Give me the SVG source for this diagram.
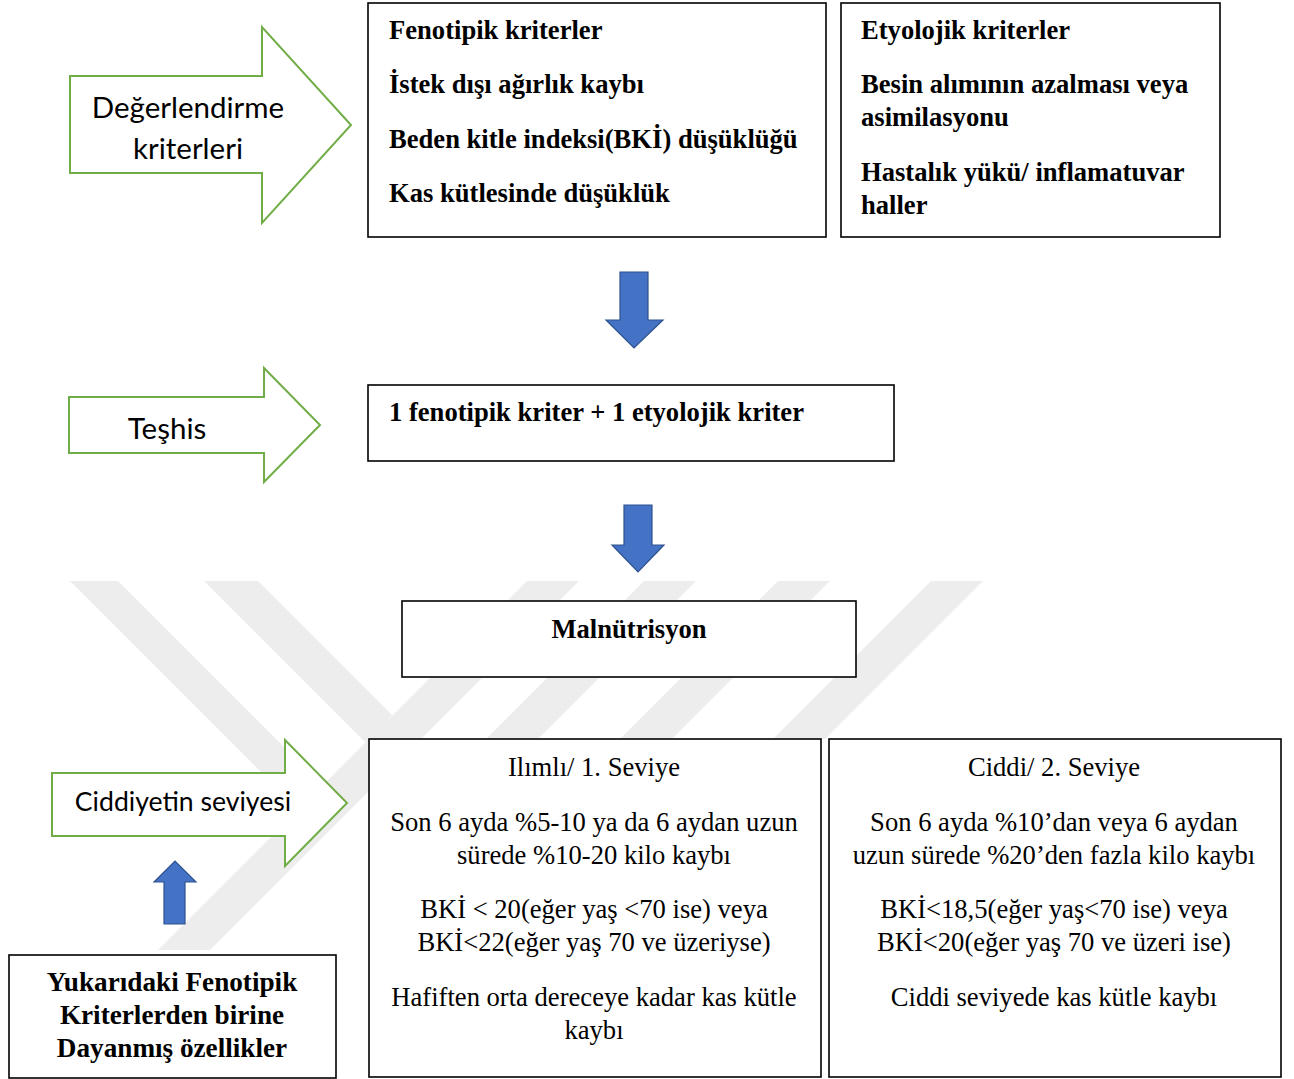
<svg xmlns="http://www.w3.org/2000/svg" width="1294" height="1079" viewBox="0 0 1294 1079">
<style>
.bg{fill:#ffffff}
.wm{fill:#ededed}
.box{fill:#ffffff;stroke:#000000;stroke-width:1.6}
.garrow{fill:#ffffff;stroke:#70ad47;stroke-width:2}
.barrow{fill:#4472c4;stroke:#2f528f;stroke-width:1.2}
.sans{font-family:Lato,"Open Sans","DejaVu Sans",sans-serif;font-size:29.5px;fill:#000}
.bold{font-family:"Liberation Serif","Times New Roman",serif;font-weight:bold;font-size:26.6px;fill:#000}
.reg{font-family:"Liberation Serif","Times New Roman",serif;font-size:26.6px;fill:#000}
.mid{text-anchor:middle}
</style>
<rect class="bg" x="0" y="0" width="1294" height="1079"/>
<g id="watermark">
<polygon class="wm" points="70,581 118,581 322.5,785.5 298.5,809.5"/>
<polygon class="wm" points="204,581 258,581 392.5,715.5 365.5,742.5"/>
<polygon class="wm" points="527,581 579,581 210,950 158,950"/>
<polygon class="wm" points="644,581 696,581 538,739 486,739"/>
<polygon class="wm" points="778,581 830,581 672,739 620,739"/>
<polygon class="wm" points="931,581 983,581 825,739 773,739"/>
</g>
<g id="connectors">
<polygon class="barrow" points="620,272 648,272 648,320 663,320 634,348 606,320 620,320"/>
<polygon class="barrow" points="624,505 652,505 652,545 664,545 638,572 612,545 624,545"/>
<polygon class="barrow" points="164,924 185,924 185,882 196,882 175,861 154,882 164,882"/>
</g>
<g id="arrow-degerlendirme">
<polygon class="garrow" points="70,76 262,76 262,27 351,125 262,223 262,173 70,173"/>
<text class="sans mid" x="188" y="118">Değerlendirme</text>
<text class="sans mid" x="188" y="159">kriterleri</text>
</g>
<g id="box-fenotipik">
<rect class="box" x="368" y="3" width="458" height="234"/>
<text class="bold" x="389" y="39">Fenotipik kriterler</text>
<text class="bold" x="389" y="93">İstek dışı ağırlık kaybı</text>
<text class="bold" x="389" y="148">Beden kitle indeksi(BKİ) düşüklüğü</text>
<text class="bold" x="389" y="202">Kas kütlesinde düşüklük</text>
</g>
<g id="box-etyolojik">
<rect class="box" x="841" y="3" width="379" height="234"/>
<text class="bold" x="861" y="39">Etyolojik kriterler</text>
<text class="bold" x="861" y="93">Besin alımının azalması veya</text>
<text class="bold" x="861" y="126">asimilasyonu</text>
<text class="bold" x="861" y="181">Hastalık yükü/ inflamatuvar</text>
<text class="bold" x="861" y="214">haller</text>
</g>
<g id="arrow-teshis">
<polygon class="garrow" points="69,397 264,397 264,368 320,425 264,482 264,453 69,453"/>
<text class="sans mid" x="167" y="439">Teşhis</text>
</g>
<g id="box-teshis">
<rect class="box" x="368" y="385" width="526" height="76"/>
<text class="bold" x="389" y="421">1 fenotipik kriter + 1 etyolojik kriter</text>
</g>
<g id="box-malnutrisyon">
<rect class="box" x="402" y="601" width="454" height="76"/>
<text class="bold mid" x="629" y="638">Malnütrisyon</text>
</g>
<g id="arrow-ciddiyet">
<polygon class="garrow" points="52,773 285,773 285,740 347,803 285,866 285,836 52,836"/>
<text class="sans mid" x="183" y="811" style="font-size:26.6px">Ciddiyetin seviyesi</text>
</g>
<g id="box-yukaridaki">
<rect class="box" x="9" y="955" width="327" height="123"/>
<text class="bold mid" x="172" y="991" style="font-size:27.2px">Yukarıdaki Fenotipik</text>
<text class="bold mid" x="172" y="1024" style="font-size:27.2px">Kriterlerden birine</text>
<text class="bold mid" x="172" y="1057" style="font-size:27.2px">Dayanmış özellikler</text>
</g>
<g id="box-ilimli">
<rect class="box" x="369" y="739" width="452" height="338"/>
<text class="reg mid" x="594" y="776">Ilımlı/ 1. Seviye</text>
<text class="reg mid" x="594" y="831">Son 6 ayda %5-10 ya da 6 aydan uzun</text>
<text class="reg mid" x="594" y="864">sürede %10-20 kilo kaybı</text>
<text class="reg mid" x="594" y="918">BKİ &lt; 20(eğer yaş &lt;70 ise) veya</text>
<text class="reg mid" x="594" y="951">BKİ&lt;22(eğer yaş 70 ve üzeriyse)</text>
<text class="reg mid" x="594" y="1006">Hafiften orta dereceye kadar kas kütle</text>
<text class="reg mid" x="594" y="1039">kaybı</text>
</g>
<g id="box-ciddi">
<rect class="box" x="829" y="739" width="452" height="338"/>
<text class="reg mid" x="1054" y="776">Ciddi/ 2. Seviye</text>
<text class="reg mid" x="1054" y="831">Son 6 ayda %10’dan veya 6 aydan</text>
<text class="reg mid" x="1054" y="864">uzun sürede %20’den fazla kilo kaybı</text>
<text class="reg mid" x="1054" y="918">BKİ&lt;18,5(eğer yaş&lt;70 ise) veya</text>
<text class="reg mid" x="1054" y="951">BKİ&lt;20(eğer yaş 70 ve üzeri ise)</text>
<text class="reg mid" x="1054" y="1006">Ciddi seviyede kas kütle kaybı</text>
</g>
</svg>
